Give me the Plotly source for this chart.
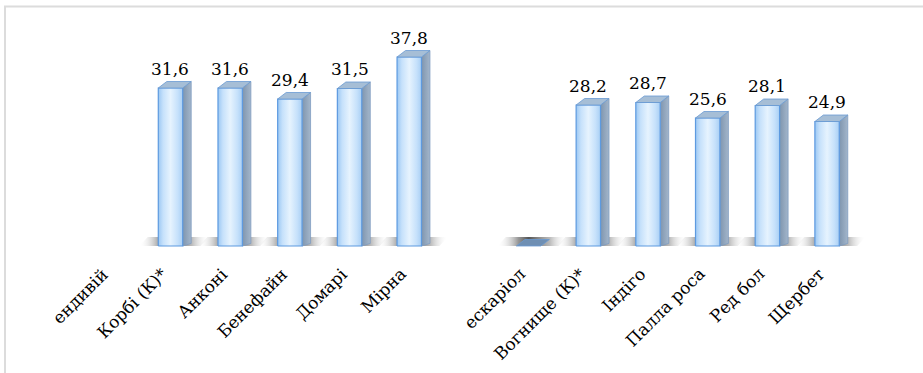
import plotly.graph_objects as go

categories = ["ендивій", "Корбі (К)*", "Анконі", "Бенефайн", "Домарі", "Мірна", "",
              "ескаріол", "Вогнище (К)*", "Індіго", "Палла роса", "Ред бол", "Щербет"]
values = [None, 31.6, 31.6, 29.4, 31.5, 37.8, None, 0, 28.2, 28.7, 25.6, 28.1, 24.9]

W, H = 923, 373
SPX = 59.69          # px per category
X0PX = 110.8         # px of first category
Y0PX = 246.0         # px of value 0
PPU = 5.0            # px per value unit

x0 = -X0PX / SPX
x1 = x0 + W / SPX
y_top = Y0PX / PPU
y_bot = -(H - Y0PX) / PPU

hw = 12.2 / SPX      # half width of front face
dx = 8.5 / SPX       # depth offset x
dy = 6.5 / PPU       # depth offset y

SERIF = "DejaVu Serif"

fig = go.Figure()

def poly(xs, ys, **kw):
    fig.add_trace(go.Scatter(x=xs + [xs[0]], y=ys + [ys[0]], mode="lines", fill="toself",
                             hoverinfo="skip", showlegend=False, **kw))

# shadows
for i, v in enumerate(values):
    if v is None:
        continue
    a, b = i - hw - 0.32, i + hw + 0.30
    poly([a, b, b + dx, a + dx], [0, 0, dy * 1.4, dy * 1.4],
         line=dict(width=0, color="rgba(0,0,0,0)"),
         fillcolor="rgba(150,150,150,0.4)",
         fillgradient=dict(type="horizontal", colorscale=[
             [0, "rgba(255,255,255,0)"], [0.3, "rgba(95,95,95,0.65)"],
             [0.45, "rgba(65,65,65,0.9)"], [0.75, "rgba(130,130,130,0.55)"],
             [1, "rgba(255,255,255,0)"]]))

for i, v in enumerate(values):
    if v is None:
        continue
    L, R = i - hw, i + hw
    if v > 0:
        # side face
        poly([R, R + dx, R + dx, R], [0, dy * 0.4, v + dy, v],
             line=dict(width=0.8, color="#7f9cc0"), fillcolor="#8aa2bd",
             fillgradient=dict(type="horizontal", colorscale=[[0, "#7f95ae"], [1, "#a3b6cb"]]))
        # front face
        poly([L, R, R, L], [0, 0, v, v],
             line=dict(width=1.2, color="#5d9ae0"), fillcolor="#c9e2fb",
             fillgradient=dict(type="horizontal", colorscale=[
                 [0, "#9cc8f3"], [0.2, "#c6e1fb"], [0.5, "#e6f3fe"], [0.8, "#c6e1fb"], [1, "#a9cff4"]]))
        topcol = "#a6bed6"
    else:
        topcol = "#6f8fb3"
    # top face
    poly([L, R, R + dx, L + dx], [v, v, v + dy, v + dy],
         line=dict(width=0.8, color="#6a9bd3"), fillcolor=topcol)

# value labels
for i, v in enumerate(values):
    if v is None or v == 0:
        continue
    fig.add_annotation(x=i, y=v + dy, xref="x", yref="y", text=f"{v:.1f}".replace(".", ","),
                       showarrow=False, xanchor="center", yanchor="bottom", yshift=1,
                       font=dict(family=SERIF, size=17, color="#000000"))

# category labels
for i, c in enumerate(categories):
    if not c:
        continue
    fig.add_annotation(x=i + 4 / SPX, y=-15 / PPU, xref="x", yref="y", text=c, textangle=-45,
                       showarrow=False, xanchor="right", yanchor="top",
                       font=dict(family=SERIF, size=17, color="#000000"))

# frame
fig.add_shape(type="line", xref="paper", yref="paper", x0=4 / W, x1=1, y0=1 - 6.5 / H, y1=1 - 6.5 / H,
              line=dict(color="#dcdcdc", width=2))
fig.add_shape(type="line", xref="paper", yref="paper", x0=5 / W, x1=5 / W, y0=0, y1=1 - 6.5 / H,
              line=dict(color="#dcdcdc", width=2))

fig.update_layout(
    width=W, height=H, margin=dict(l=0, r=0, t=0, b=0),
    paper_bgcolor="white", plot_bgcolor="white", showlegend=False,
    xaxis=dict(range=[x0, x1], visible=False, fixedrange=True),
    yaxis=dict(range=[y_bot, y_top], visible=False, fixedrange=True),
)

fig.write_html("out.html")
